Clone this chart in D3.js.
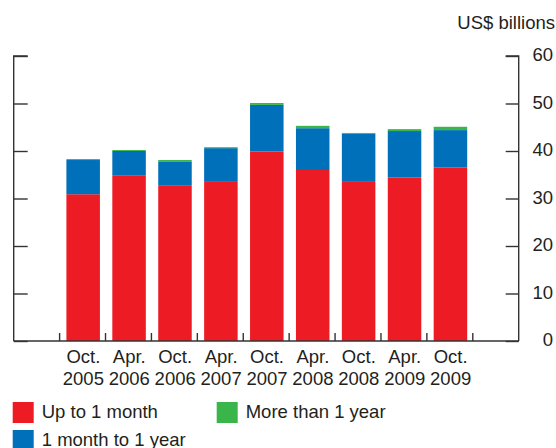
<!DOCTYPE html>
<html><head><meta charset="utf-8">
<script src="https://cdn.jsdelivr.net/npm/d3@7"></script>
<style>body{margin:0;background:#fff}svg{display:block}text{font-family:"Liberation Sans",Arial,sans-serif;fill:#231f20}</style>
</head><body><svg id="c" width="556" height="448"></svg>
<script>
const categories = ["Oct.|2005","Apr.|2006","Oct.|2006","Apr.|2007","Oct.|2007","Apr.|2008","Oct.|2008","Apr.|2009","Oct.|2009"];
const upTo1Month = [30.9, 34.9, 32.8, 33.5, 39.9, 36.0, 33.5, 34.4, 36.5];
const month1ToYear1 = [7.2, 5.1, 4.9, 7.1, 9.8, 8.8, 10.1, 9.8, 7.9];
const moreThan1Year = [0.2, 0.2, 0.4, 0.2, 0.4, 0.5, 0.2, 0.4, 0.7];
const yTicks = [0, 10, 20, 30, 40, 50, 60];
const seriesNames = ["Up to 1 month", "1 month to 1 year", "More than 1 year"];
const colors = ["#ed1c24", "#0070bb", "#39b54a"];

const svg = d3.select("#c");
const slots = ["_l", ...categories, "_r"];
const x = d3.scaleBand().domain(slots).range([13.7, 518.7]).padding(0);
const y = d3.scaleLinear().domain([0, 60]).range([341, 56]);

const rows = categories.map((c, i) => ({cat: c, a: upTo1Month[i], b: month1ToYear1[i], c: moreThan1Year[i]}));
const stack = d3.stack().keys(["a", "b", "c"])(rows);
const bw = x.bandwidth() * 0.73;
const off = (x.bandwidth() - bw) / 2 + 0.6;

svg.append("g").selectAll("g").data(stack).join("g")
  .attr("fill", (d, i) => colors[i])
  .selectAll("rect").data(d => d).join("rect")
  .attr("x", d => x(d.data.cat) + off)
  .attr("width", bw)
  .attr("y", d => y(d[1]))
  .attr("height", d => y(d[0]) - y(d[1]));

const axisColor = "#333";
const fs = 18.5;
// left axis
const gl = svg.append("g").attr("transform", "translate(13.7,0)")
  .call(d3.axisRight(y).tickValues(yTicks).tickSize(14).tickFormat(""));
gl.select(".domain").attr("d", `M14,${y(60)}H0V${y(0)}`);
// right axis
const gr = svg.append("g").attr("transform", "translate(518.7,0)")
  .call(d3.axisLeft(y).tickValues(yTicks).tickSize(13).tickFormat(""));
gr.select(".domain").attr("d", `M-13,${y(60)}H0V${y(0)}`);
// right labels
svg.append("g").selectAll("text").data(yTicks).join("text")
  .attr("x", 553).attr("y", d => y(d)).attr("dy", "0.28em")
  .attr("text-anchor", "end").attr("font-size", fs).text(d => d);
// bottom axis
const gb = svg.append("g").attr("transform", `translate(0,${y(0)})`);
gb.append("path").attr("class", "domain").attr("fill", "none").attr("d", `M13.7,0H518.7`);
gb.selectAll("line.t").data(slots.slice(1)).join("line").attr("class", "t")
  .attr("x1", d => x(d)).attr("x2", d => x(d)).attr("y1", 0).attr("y2", -8);
svg.selectAll(".domain, .tick line, line.t").attr("stroke", axisColor).attr("stroke-width", 1.4);

// category labels
const lab = svg.append("g").selectAll("text").data(categories).join("text")
  .attr("text-anchor", "middle").attr("font-size", fs)
  .attr("transform", d => `translate(${x(d) + x.bandwidth()/2 + 0.8},0)`);
lab.append("tspan").attr("x", 0).attr("y", 363).text(d => d.split("|")[0]);
lab.append("tspan").attr("x", 0).attr("y", 385).text(d => d.split("|")[1]);

// unit
svg.append("text").attr("x", 555).attr("y", 29).attr("text-anchor", "end").attr("font-size", fs).text("US$ billions");

// legend
const legPos = [[12.7, 402], [12.7, 430], [216.7, 402]];
const lg = svg.append("g").selectAll("g").data(seriesNames).join("g")
  .attr("transform", (d, i) => `translate(${legPos[i][0]},${legPos[i][1]})`);
lg.append("rect").attr("width", 21).attr("height", 21).attr("fill", (d, i) => colors[i]);
lg.append("text").attr("x", 29).attr("y", 16).attr("font-size", fs).text(d => d);
</script></body></html>
